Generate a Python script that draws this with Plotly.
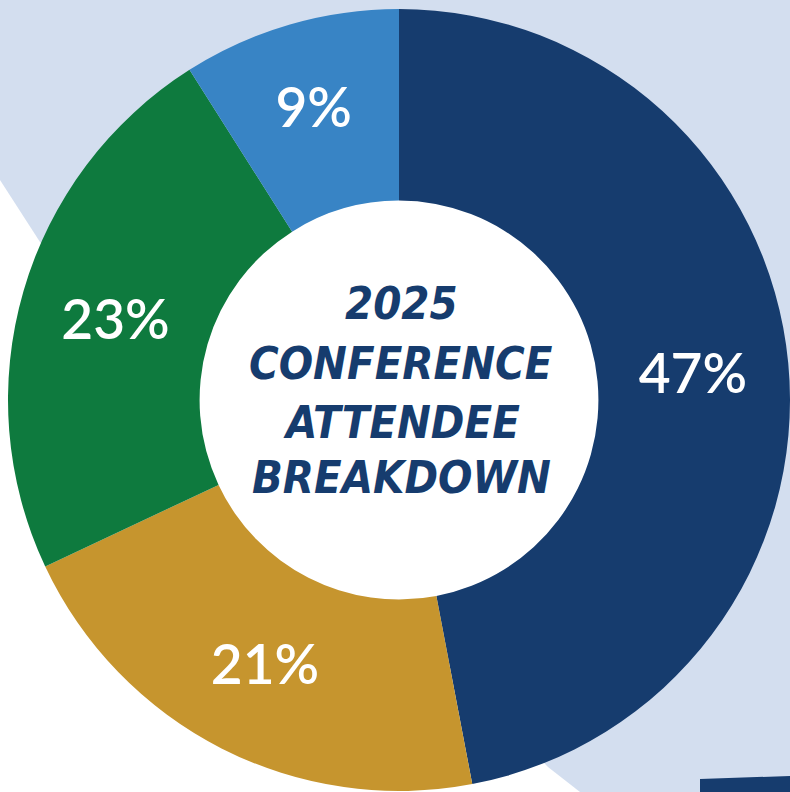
import plotly.graph_objects as go

# ---- data ----
categories = ["Segment A", "Segment B", "Segment C", "Segment D"]
shares = [47, 21, 23, 9]
colors = ["#163c6e", "#c6952e", "#0e7a3e", "#3884c5"]
title_lines = ["2025", "CONFERENCE", "ATTENDEE", "BREAKDOWN"]

W, H = 790, 792
NAVY = "#163c6e"
LIGHT = "#d3deef"


def px(x, y):
    return x / W, 1 - y / H


def path(points):
    pts = [px(x, y) for x, y in points]
    return "M " + " L ".join(f"{a:.5f},{b:.5f}" for a, b in pts) + " Z"


fig = go.Figure()
fig.add_trace(go.Pie(
    labels=categories,
    values=shares,
    sort=False,
    direction="clockwise",
    rotation=0,
    hole=0.51,
    marker=dict(colors=colors, line=dict(width=0)),
    texttemplate="%{value}%",
    textposition="inside",
    insidetextorientation="horizontal",
    textfont=dict(family="Lato", size=55, color="white", weight=600),
    showlegend=False,
    hoverinfo="none",
    domain=dict(x=[8 / W, 1], y=[0, 784 / H]),
))

shapes = [
    # light blue background band
    dict(type="path", xref="paper", yref="paper", layer="below",
         path=path([(0, 180), (40, 242), (548, 767), (580, 792), (W, H), (W, 0), (0, 0)]),
         fillcolor=LIGHT, line=dict(width=0)),
    # white hole
    dict(type="circle", xref="paper", yref="paper", layer="below",
         x0=px(199, 0)[0], x1=px(599, 0)[0], y0=px(0, 600)[1], y1=px(0, 200)[1],
         fillcolor="white", line=dict(width=0)),
    # navy bar bottom right
    dict(type="path", xref="paper", yref="paper", layer="above",
         path=path([(700, 779), (W, 776), (W, H), (700, H)]),
         fillcolor=NAVY, line=dict(width=0)),
]

line_y = [303, 364, 422, 478]
annotations = []
for txt, yy in zip(title_lines, line_y):
    annotations.append(dict(
        text=f'<span style="font-stretch:condensed">{txt}</span>',
        xref="paper", yref="paper", x=px(401, 0)[0], y=px(0, yy)[1],
        xanchor="center", yanchor="middle", showarrow=False,
        font=dict(family="DejaVu Sans", size=45, color=NAVY,
                  weight="bold", style="italic"),
    ))

fig.update_layout(
    width=W, height=H,
    margin=dict(l=0, r=0, t=0, b=0),
    paper_bgcolor="white",
    plot_bgcolor="white",
    shapes=shapes,
    annotations=annotations,
)

fig.write_html(
    "out.html",
    config={"displayModeBar": False},
    post_script="document.body.style.margin='0';document.body.style.overflow='hidden';",
)
